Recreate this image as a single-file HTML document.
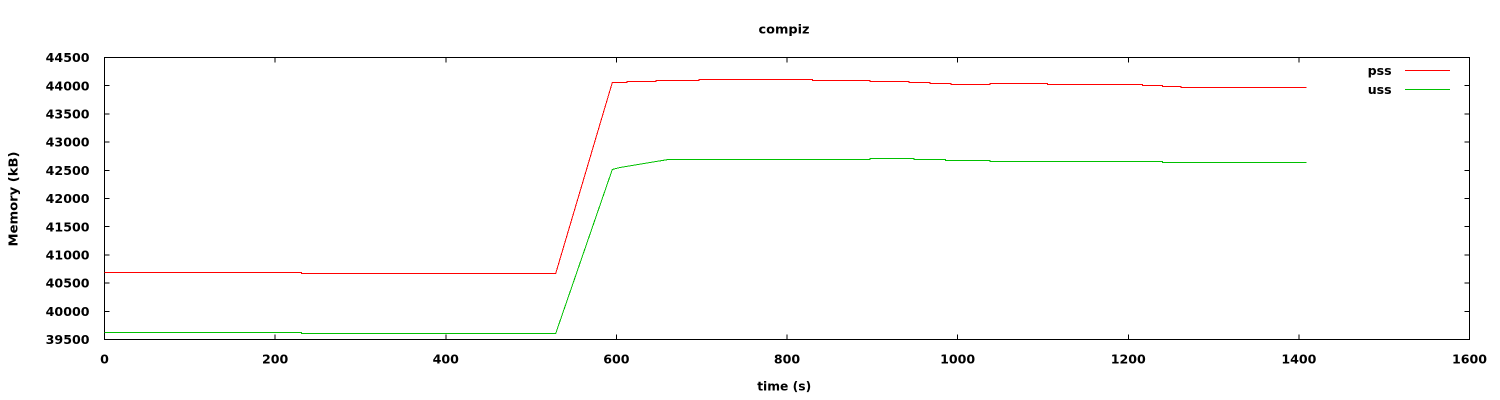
<!DOCTYPE html>
<html>
<head>
<meta charset="utf-8">
<style>
html,body{margin:0;padding:0;background:#fff;}
svg{display:block;}
text{font-family:"DejaVu Sans","Liberation Sans",sans-serif;font-weight:bold;font-size:12.6px;fill:#000;}
</style>
</head>
<body>
<svg width="1500" height="400" viewBox="0 0 1500 400" xmlns="http://www.w3.org/2000/svg">
<rect x="0" y="0" width="1500" height="400" fill="#fff"/>
<g shape-rendering="crispEdges" stroke="#000" stroke-width="1" fill="none">
<rect x="104.5" y="57.5" width="1365" height="282"/>
<!-- y ticks -->
<path d="M104.5 339.5h5M1469.5 339.5h-5
M104.5 311.3h5M1469.5 311.3h-5
M104.5 283.1h5M1469.5 283.1h-5
M104.5 254.9h5M1469.5 254.9h-5
M104.5 226.7h5M1469.5 226.7h-5
M104.5 198.5h5M1469.5 198.5h-5
M104.5 170.3h5M1469.5 170.3h-5
M104.5 142.1h5M1469.5 142.1h-5
M104.5 113.9h5M1469.5 113.9h-5
M104.5 85.7h5M1469.5 85.7h-5
M104.5 57.5h5M1469.5 57.5h-5"/>
<!-- x ticks -->
<path d="M104.5 339.5v-5M104.5 57.5v5
M275.1 339.5v-5M275.1 57.5v5
M445.75 339.5v-5M445.75 57.5v5
M616.4 339.5v-5M616.4 57.5v5
M787 339.5v-5M787 57.5v5
M957.6 339.5v-5M957.6 57.5v5
M1128.25 339.5v-5M1128.25 57.5v5
M1298.9 339.5v-5M1298.9 57.5v5
M1469.5 339.5v-5M1469.5 57.5v5"/>
</g>
<!-- y tick labels -->
<g text-anchor="end">
<text x="89.5" y="344.1">39500</text>
<text x="89.5" y="315.9">40000</text>
<text x="89.5" y="287.7">40500</text>
<text x="89.5" y="259.5">41000</text>
<text x="89.5" y="231.3">41500</text>
<text x="89.5" y="203.1">42000</text>
<text x="89.5" y="174.9">42500</text>
<text x="89.5" y="146.7">43000</text>
<text x="89.5" y="118.5">43500</text>
<text x="89.5" y="90.3">44000</text>
<text x="89.5" y="62.1">44500</text>
</g>
<!-- x tick labels -->
<g text-anchor="middle">
<text x="104.5" y="363.5">0</text>
<text x="275.1" y="363.5">200</text>
<text x="445.75" y="363.5">400</text>
<text x="616.4" y="363.5">600</text>
<text x="787" y="363.5">800</text>
<text x="957.6" y="363.5">1000</text>
<text x="1128.25" y="363.5">1200</text>
<text x="1298.9" y="363.5">1400</text>
<text x="1469.5" y="363.5">1600</text>
</g>
<text x="784" y="33.3" text-anchor="middle" textLength="51" lengthAdjust="spacingAndGlyphs">compiz</text>
<text x="784.2" y="390.5" text-anchor="middle" textLength="54" lengthAdjust="spacingAndGlyphs">time (s)</text>
<text transform="translate(17.5,199) rotate(-90)" x="0" y="0" text-anchor="middle" textLength="95" lengthAdjust="spacingAndGlyphs">Memory (kB)</text>
<!-- legend -->
<text x="1391.7" y="74.8" text-anchor="end">pss</text>
<text x="1391.7" y="93.8" text-anchor="end">uss</text>
<g shape-rendering="crispEdges" fill="none" stroke-width="1">
<path d="M1405 70.5H1450" stroke="#ff0000"/>
<path d="M1405 89.5H1450" stroke="#00c000"/>
<!-- pss -->
<polyline stroke="#ff0000" points="104.5,272.5 301.7,272.5 301.7,273.5 555.7,273.5 612.3,82.5 627,82.5 627,81.5 656,81.5 656,80.5 699,80.5 699,79.5 812.7,79.5 812.7,80.5 870,80.5 870,81.5 909,81.5 909,82.5 930,82.5 930,83.5 951,83.5 951,84.5 990,84.5 990,83.5 1047.7,83.5 1047.7,84.5 1142.7,84.5 1142.7,85.5 1162.3,85.5 1162.3,86.5 1181,86.5 1181,87.5 1306.7,87.5"/>
<!-- uss -->
<polyline stroke="#00c000" points="104.5,332.5 301.7,332.5 301.7,333.5 555.7,333.5 612.3,169.5 620,167.5 668.3,159.5 870,159.5 870,158.5 914,158.5 914,159.5 945.7,159.5 945.7,160.5 990,160.5 990,161.5 1162.3,161.5 1162.3,162.5 1306.7,162.5"/>
</g>
</svg>
</body>
</html>
